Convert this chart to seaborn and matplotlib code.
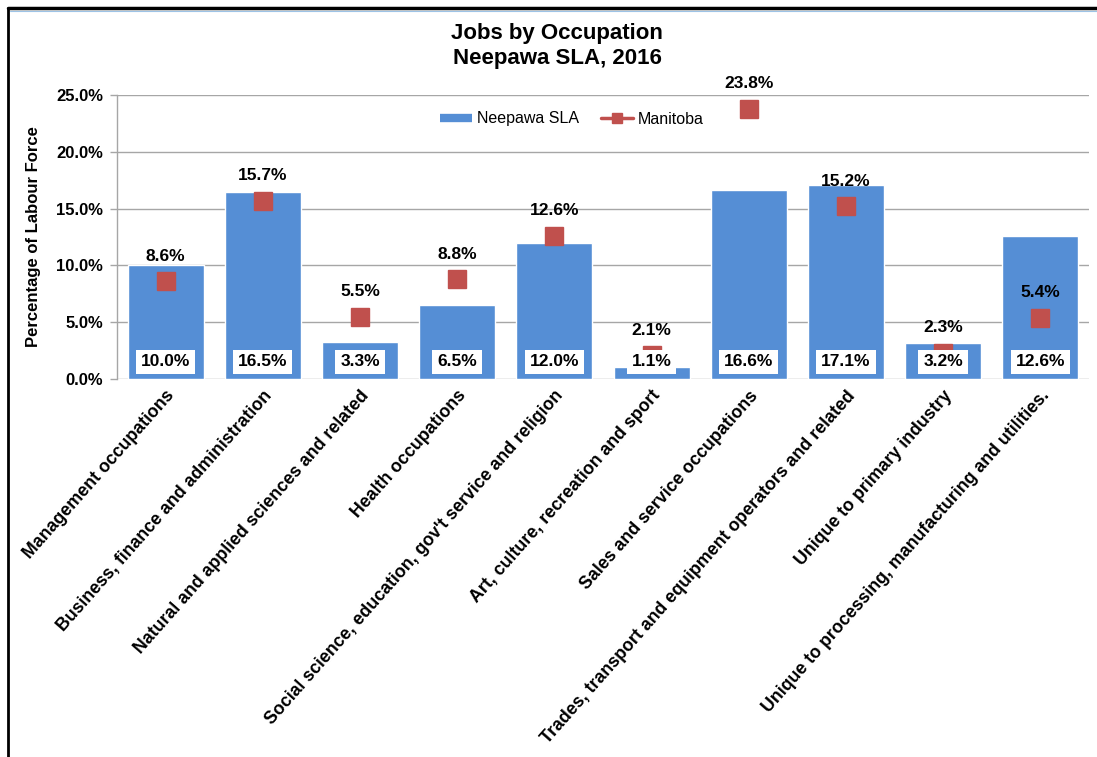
import matplotlib
matplotlib.use("Agg")
import matplotlib.pyplot as plt
from matplotlib.lines import Line2D
from matplotlib.ticker import FuncFormatter
import seaborn as sns
import pandas as pd

# Occupation categories and shares of the labour force (%)
occupations = [
    "Management occupations",
    "Business, finance and administration",
    "Natural and applied sciences and related",
    "Health occupations",
    "Social science, education, gov't service and religion",
    "Art, culture, recreation and sport",
    "Sales and service occupations",
    "Trades, transport and equipment operators and related",
    "Unique to primary industry",
    "Unique to processing, manufacturing and utilities.",
]
neepawa = [10.0, 16.5, 3.3, 6.5, 12.0, 1.1, 16.6, 17.1, 3.2, 12.6]
manitoba = [8.6, 15.7, 5.5, 8.8, 12.6, 2.1, 23.8, 15.2, 2.3, 5.4]

BAR_BLUE = "#558ED5"
MB_RED = "#C0504D"
GRID = "#A6A6A6"

sns.set_theme(style="white")
plt.rcParams["font.family"] = ["Liberation Sans", "DejaVu Sans"]
plt.rcParams["text.color"] = "black"
plt.rcParams["axes.labelcolor"] = "black"
plt.rcParams["xtick.color"] = "black"
plt.rcParams["ytick.color"] = "black"

df = pd.DataFrame({"occupation": occupations, "neepawa": neepawa, "manitoba": manitoba})

fig = plt.figure(figsize=(10.97, 7.57), dpi=100)
ax = fig.add_axes([117 / 1097, 1 - 379 / 757, 972 / 1097, 284 / 757])

sns.barplot(data=df, x="occupation", y="neepawa", color=BAR_BLUE, saturation=1,
            width=0.78, ax=ax, zorder=2, order=occupations)
ax.plot(range(len(occupations)), manitoba, linestyle="none", marker="s",
        markersize=12.5, color=MB_RED, zorder=3)

ax.set_xlim(-0.5, len(occupations) - 0.5)
ax.set_ylim(0, 25)
ax.set_yticks([0, 5, 10, 15, 20, 25])
ax.yaxis.set_major_formatter(FuncFormatter(lambda v, _: f"{v:.1f}%"))
ax.grid(axis="y", color=GRID, linewidth=1.0, zorder=0)
ax.set_axisbelow(True)
for side in ["top", "right", "bottom"]:
    ax.spines[side].set_visible(False)
ax.spines["left"].set_color(GRID)
ax.spines["left"].set_linewidth(1.0)
ax.tick_params(axis="y", direction="out", length=5, color=GRID, width=1.0,
               left=True, pad=5, labelsize=12, labelcolor="black")
ax.tick_params(axis="x", length=0, pad=6, labelcolor="black")
for lbl in ax.get_yticklabels():
    lbl.set_fontweight("bold")

ax.set_xticks(range(len(occupations)))
ax.set_xticklabels(occupations, rotation=48.5, ha="right", va="top",
                   rotation_mode="anchor", fontsize=12.8, fontweight="bold")
ax.set_xlabel("")
ax.set_ylabel("Percentage of Labour Force", fontsize=12, fontweight="bold", labelpad=11)

# Manitoba value labels above the markers
for i, v in enumerate(manitoba):
    ax.annotate(f"{v:.1f}%", (i, v), xytext=(0, 18), textcoords="offset points",
                ha="center", va="center", fontsize=12.5, fontweight="bold",
                color="black", zorder=4, annotation_clip=False)

# Neepawa value labels in white boxes at the foot of the bars
for i, v in enumerate(neepawa):
    ax.annotate(f"{v:.1f}%", (i, 0), xytext=(0, 12.3), textcoords="offset points",
                ha="center", va="center", fontsize=12.5, fontweight="bold",
                color="black", zorder=5,
                bbox=dict(boxstyle="square,pad=0.28", facecolor="white", edgecolor="none"))

# Legend
handles = [
    Line2D([0], [0], color=BAR_BLUE, linewidth=6, solid_capstyle="butt"),
    Line2D([0], [0], color=MB_RED, linewidth=2.5, marker="s", markersize=7),
]
fig.legend(handles, ["Neepawa SLA", "Manitoba"], loc="center",
           bbox_to_anchor=(572 / 1097, 1 - 119 / 757), ncol=2, frameon=False,
           fontsize=11.5, handlelength=2.0, handletextpad=0.3, columnspacing=1.4)

fig.text(557 / 1097, 1 - 46 / 757, "Jobs by Occupation\nNeepawa SLA, 2016",
         ha="center", va="center", fontsize=16, fontweight="bold", linespacing=1.25)

# Outer frame lines
fig.add_artist(Line2D([8 / 1097, 8 / 1097], [0, 1 - 8 / 757], color="black",
                      linewidth=2.0, transform=fig.transFigure))
fig.add_artist(Line2D([8 / 1097, 1], [1 - 8 / 757, 1 - 8 / 757], color="black",
                      linewidth=2.5, transform=fig.transFigure))
fig.add_artist(Line2D([10 / 1097, 1], [1 - 10.5 / 757, 1 - 10.5 / 757], color="#9DC3E6",
                      linewidth=0.8, transform=fig.transFigure))

fig.savefig("out.png", dpi=100, facecolor="white")
